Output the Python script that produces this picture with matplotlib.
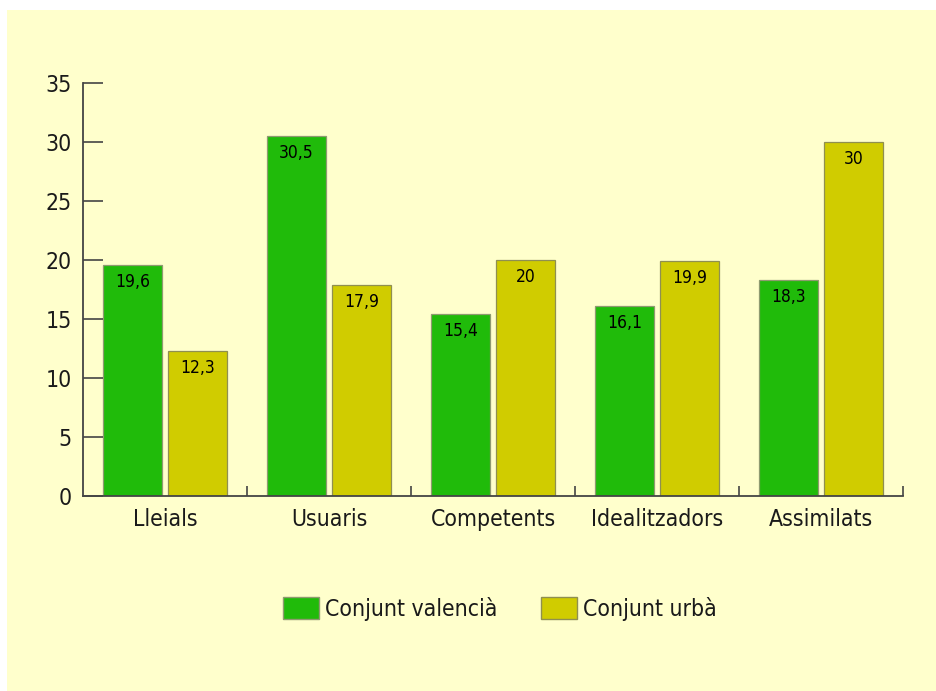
import matplotlib
matplotlib.use("Agg")
import matplotlib.pyplot as plt
import numpy as np
from matplotlib.patches import Rectangle, Patch

categories = ["Lleials", "Usuaris", "Competents", "Idealitzadors", "Assimilats"]
valencia = [19.6, 30.5, 15.4, 16.1, 18.3]
urba = [12.3, 17.9, 20.0, 19.9, 30.0]
labels_valencia = ["19,6", "30,5", "15,4", "16,1", "18,3"]
labels_urba = ["12,3", "17,9", "20", "19,9", "30"]
series_names = ["Conjunt valencià", "Conjunt urbà"]
yticks = [0, 5, 10, 15, 20, 25, 30, 35]

BG = "#FFFFCC"
GREEN = "#20BB0A"
YELLOW = "#D0CC00"
FONT = dict(family="DejaVu Sans", stretch="condensed")

fig = plt.figure(figsize=(9.36, 6.91), dpi=100)
fig.patch.set_facecolor("white")
fig.add_artist(Rectangle((7 / 936, 0), 1, 1 - 10 / 691, transform=fig.transFigure,
                         facecolor=BG, edgecolor="none", zorder=-10))

ax = fig.add_axes([83 / 936, 195 / 691, 820 / 936, 412.7 / 691])
ax.set_facecolor("none")

x = np.arange(len(categories))
w = 0.36
off = 0.199
b1 = ax.bar(x - off, valencia, w, color=GREEN, edgecolor="#8f9a70", linewidth=0.9)
b2 = ax.bar(x + off, urba, w, color=YELLOW, edgecolor="#8f8f50", linewidth=0.9)

for bars, labs in ((b1, labels_valencia), (b2, labels_urba)):
    for r, t in zip(bars, labs):
        ax.annotate(t, (r.get_x() + r.get_width() / 2, r.get_height()),
                    xytext=(0, -5.5), textcoords="offset points", ha="center", va="top",
                    fontsize=12.5, color="#000000", **FONT)

ax.set_xlim(-0.5, 4.5)
ax.set_ylim(0, 35)
for s in ("top", "right"):
    ax.spines[s].set_visible(False)
for s in ("left", "bottom"):
    ax.spines[s].set_color("#444444")
    ax.spines[s].set_linewidth(1.3)

ax.set_yticks(yticks)
ax.set_yticklabels([str(v) for v in yticks], **FONT)
ax.tick_params(axis="y", direction="in", length=14.5, width=1.2, color="#444444",
               pad=8, labelsize=16.5, labelcolor="#1a1a1a")

ax.set_xticks(np.arange(len(categories)) + 0.5)
ax.set_xticklabels([])
ax.tick_params(axis="x", which="major", direction="in", length=7, width=1.2, color="#444444")
ax.set_xticks(x, minor=True)
ax.set_xticklabels(categories, minor=True, **FONT)
ax.tick_params(axis="x", which="minor", length=0, pad=21.5, labelsize=16.5, labelcolor="#1a1a1a")
for lbl in ax.get_xticklabels(minor=True):
    lbl.set_va("baseline")

handles = [Patch(facecolor=GREEN, edgecolor="#8f9a70"), Patch(facecolor=YELLOW, edgecolor="#8f8f50")]
leg = fig.legend(handles, series_names, loc="center", bbox_to_anchor=(500 / 936, 1 - 609 / 691),
                 ncol=2, frameon=False, handlelength=1.57, handleheight=1.1,
                 handletextpad=0.25, columnspacing=1.9,
                 prop=dict(size=16.5, **FONT))
for t in leg.get_texts():
    t.set_color("#1a1a1a")

fig.savefig("out.png", dpi=100, facecolor=fig.get_facecolor())
